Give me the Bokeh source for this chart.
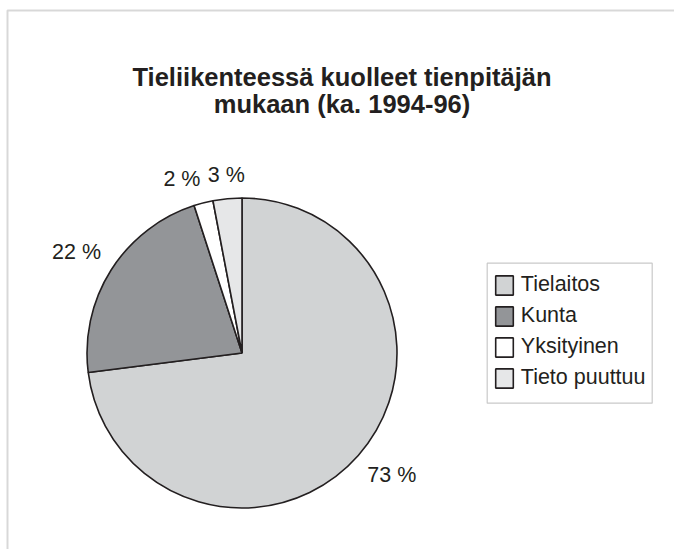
import math
from bokeh.plotting import figure
from bokeh.models import Range1d, Label, Legend, LegendItem, BoxAnnotation, ColumnDataSource
from bokeh.embed import file_html
from bokeh.resources import INLINE
from bokeh.core.properties import value

# ---- data ----
categories = ["Tielaitos", "Kunta", "Yksityinen", "Tieto puuttuu"]
shares = [73, 22, 2, 3]
title_lines = ["Tieliikenteessä kuolleet tienpitäjän", "mukaan (ka. 1994-96)"]
slice_colors = ["#d1d3d4", "#939598", "#ffffff", "#e6e7e8"]

FONT = "Liberation Sans"
INK = "#231f20"

W, H = 674, 549
p = figure(width=W, height=H, output_backend="svg", toolbar_location=None,
           x_range=Range1d(0, W), y_range=Range1d(0, H),
           x_axis_type=None, y_axis_type=None, min_border=0)
p.grid.visible = False
p.outline_line_color = None
p.background_fill_color = "white"
p.border_fill_color = "white"

# chart-area frame (only top and left edges visible in the crop)
p.add_layout(BoxAnnotation(left=7, right=W + 60, bottom=-60, top=H - 10,
                           fill_alpha=0, line_color="#7f7f7f", line_width=2))

# ---- pie ----
cx, cy, R = 241.5, 196.5, 155
total = float(sum(shares))
starts, ends = [], []
cum = 0.0
for v in shares:
    a0 = math.pi / 2 - 2 * math.pi * (cum + v) / total
    a1 = math.pi / 2 - 2 * math.pi * cum / total
    starts.append(a0)
    ends.append(a1)
    cum += v

src = ColumnDataSource(dict(cat=categories, val=shares, start=starts, end=ends, color=slice_colors))
wedges = p.wedge(x=cx, y=cy, radius=R, radius_units="screen",
                 start_angle="start", end_angle="end", source=src,
                 fill_color="color", line_color=INK, line_width=1.6)

# ---- percent labels ----
for v, a0, a1 in zip(shares, starts, ends):
    mid = (a0 + a1) / 2
    ux, uy = math.cos(mid), math.sin(mid)
    lx, ly = cx + (R + 12) * ux, cy + (R + 12) * uy
    if ux > 0.2:
        al = "left"
    elif ux < -0.2:
        al = "right"
    else:
        al = "center"
    bl = "bottom" if uy > 0 else "top"
    p.text(x=[lx], y=[ly], text=[f"{v} %"], text_align=al, text_baseline=bl,
           text_font=value(FONT), text_font_size="21.5px", text_color=INK)

# ---- title ----
tx = 341.5
for i, line in enumerate(title_lines):
    p.add_layout(Label(x=tx, y=473 - 27 * i, text=line, text_align="center",
                       text_baseline="alphabetic", text_font=FONT,
                       text_font_style="bold", text_font_size="25.5px", text_color=INK))

# ---- legend ----
p.add_layout(BoxAnnotation(left=486.7, right=651.7, bottom=146.3, top=286.3,
                           fill_alpha=0, line_color="#4d4d4d", line_width=1.2))
items = [LegendItem(label=c, renderers=[wedges], index=i) for i, c in enumerate(categories)]
legend = Legend(items=items, location=(486.8, 153), padding=6, spacing=6, margin=0,
                glyph_width=22, glyph_height=24, label_height=24, label_standoff=6,
                label_text_font=FONT, label_text_font_size="21.5px", label_text_color=INK,
                border_line_alpha=0, background_fill_alpha=0)
p.add_layout(legend)

open("out.html", "w").write(file_html(p, INLINE))
